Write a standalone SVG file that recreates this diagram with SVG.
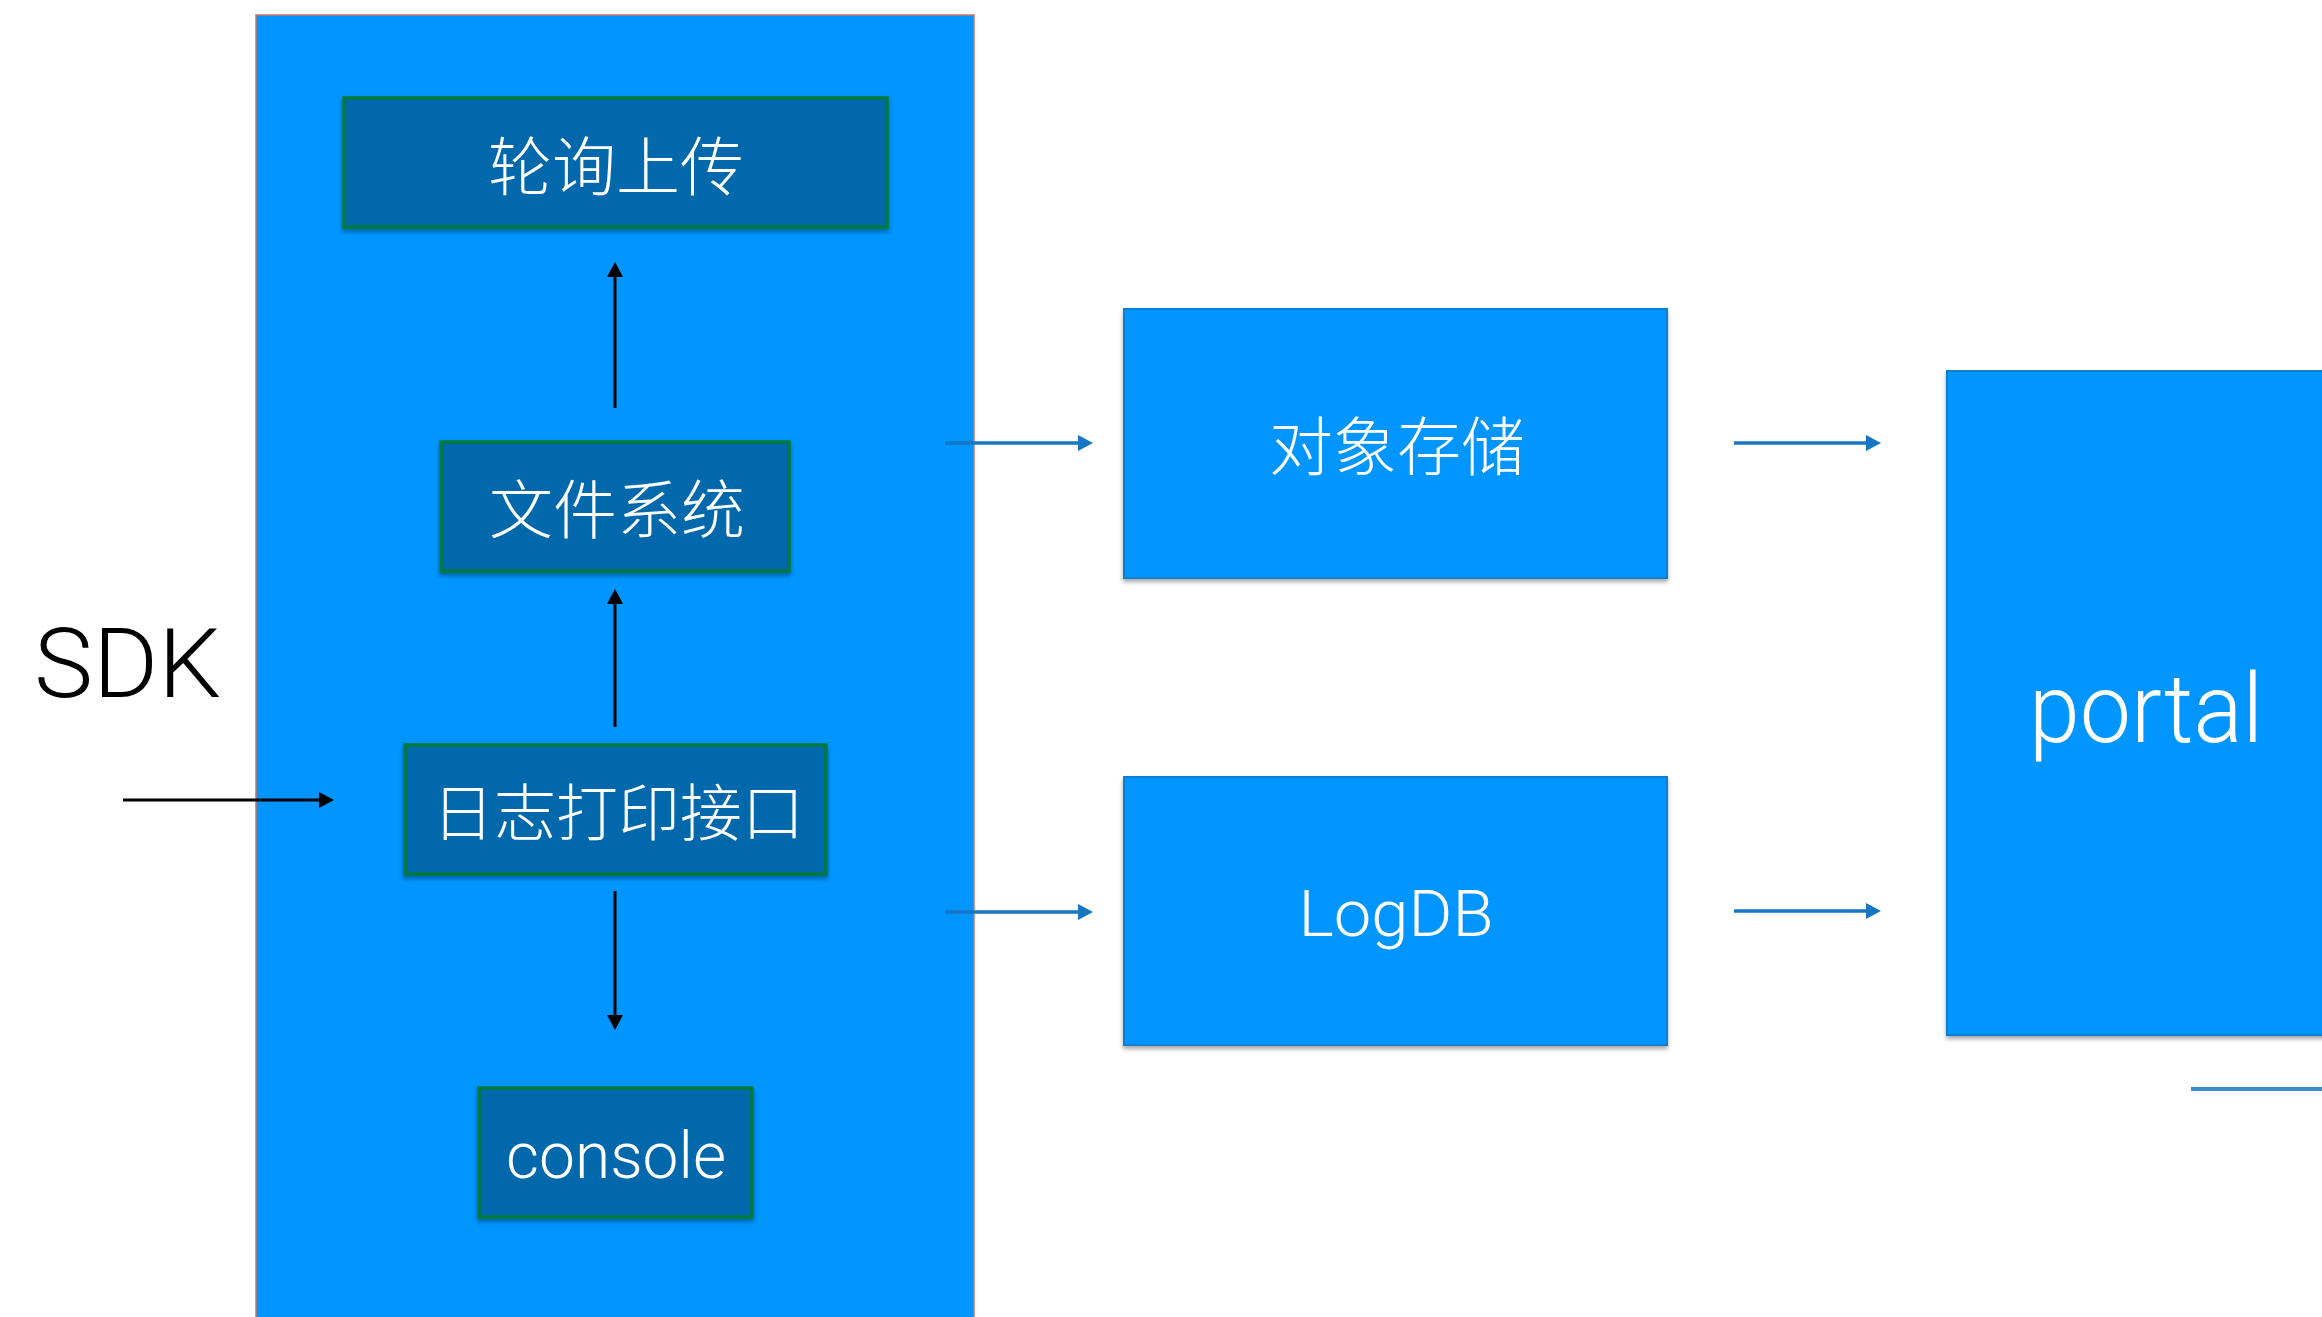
<svg xmlns="http://www.w3.org/2000/svg" width="2322" height="1317" viewBox="0 0 2322 1317">
  <defs>
    <filter id="shadow" x="-5%" y="-5%" width="110%" height="115%">
      <feDropShadow dx="0" dy="3" stdDeviation="2" flood-color="#000" flood-opacity="0.35"/>
    </filter>
    <marker id="headBlack" markerUnits="userSpaceOnUse" markerWidth="16" markerHeight="16" refX="11" refY="8" orient="auto">
      <path d="M0,0 L15,8 L0,16 z" fill="#000"/>
    </marker>
    <marker id="headBlue" markerUnits="userSpaceOnUse" markerWidth="16" markerHeight="16" refX="11" refY="8" orient="auto">
      <path d="M0,0 L15,8 L0,16 z" fill="#1775c4"/>
    </marker>
  </defs>
  <style>
    .container { fill: #0095ff; stroke: #c9735f; stroke-width: 1.5; }
    .inner { fill: #0067ab; stroke: #00793c; stroke-width: 3.5; filter: url(#shadow); }
    .outer { fill: #0095ff; stroke: #0a7fd0; stroke-width: 2; filter: url(#shadow); }
    .cjk { font-family: "Noto Sans CJK SC", "Noto Sans", sans-serif; font-weight: 300; fill: #ffffff; text-anchor: middle; }
    .latin { font-family: Roboto, "Liberation Sans", Arial, sans-serif; font-weight: 300; fill: #ffffff; text-anchor: middle; }
    .black { fill: none; stroke: #000; stroke-width: 3; marker-end: url(#headBlack); }
    .blue { fill: none; stroke: #1775c4; stroke-width: 3.5; marker-end: url(#headBlue); }
  </style>

  <rect x="0" y="0" width="2322" height="1317" fill="#ffffff"/>

  <g id="sdk-container">
    <rect class="container" x="256" y="15" width="718" height="1320"/>
  </g>

  <g id="sdk-label">
    <text x="34" y="697" font-family="Roboto, Liberation Sans, Arial, sans-serif" font-weight="300" font-size="96" fill="#000" textLength="187" lengthAdjust="spacingAndGlyphs">SDK</text>
  </g>

  <g id="node-polling-upload">
    <rect class="inner" x="344" y="98" width="543" height="129"/>
    <text class="cjk" x="616" y="190" font-size="64">轮询上传</text>
  </g>

  <g id="node-file-system">
    <rect class="inner" x="441" y="442" width="348" height="129"/>
    <text class="cjk" x="617" y="533" font-size="64">文件系统</text>
  </g>

  <g id="node-log-print-interface">
    <rect class="inner" x="405" y="745" width="421" height="129"/>
    <text class="cjk" x="618" y="836" font-size="62">日志打印接口</text>
  </g>

  <g id="node-console">
    <rect class="inner" x="479" y="1088" width="273" height="129"/>
    <text class="latin" x="616" y="1178" font-size="64" textLength="220" lengthAdjust="spacingAndGlyphs">console</text>
  </g>

  <g id="node-object-storage">
    <rect class="outer" x="1124" y="309" width="543" height="269"/>
    <text class="cjk" x="1397" y="470" font-size="64">对象存储</text>
  </g>

  <g id="node-logdb">
    <rect class="outer" x="1124" y="777" width="543" height="268"/>
    <text class="latin" x="1396" y="936" font-size="64" textLength="195" lengthAdjust="spacingAndGlyphs">LogDB</text>
  </g>

  <g id="node-portal">
    <rect class="outer" x="1947" y="371" width="420" height="664"/>
    <text class="latin" x="2146" y="742" font-size="96" textLength="234" lengthAdjust="spacingAndGlyphs">portal</text>
  </g>

  <g id="connectors">
    <path class="black" d="M615,408 V266"/>
    <path class="black" d="M615,727 V593"/>
    <path class="black" d="M615,891 V1026"/>
    <path class="black" d="M123,800 H330"/>
    <path class="blue" d="M945,443 H1089"/>
    <path class="blue" d="M945,912 H1089"/>
    <path class="blue" d="M1734,443 H1877"/>
    <path class="blue" d="M1734,911 H1877"/>
  </g>

  <g id="fragment">
    <path d="M2191,1089 H2322" stroke="#3a8ccf" stroke-width="4" fill="none"/>
  </g>
</svg>
